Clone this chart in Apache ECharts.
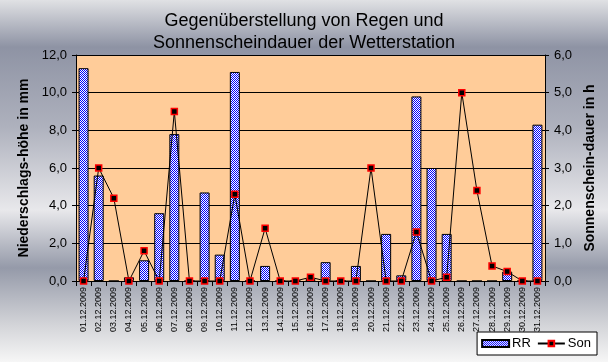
<!DOCTYPE html>
<html>
<head>
<meta charset="utf-8">
<script src="https://cdn.jsdelivr.net/npm/echarts@6/dist/echarts.min.js"></script>
<style>
html,body{margin:0;padding:0;}
#c{width:608px;height:362px;}
</style>
</head>
<body>
<div id="c"></div>
<script>
var categories = ['01.12.2009','02.12.2009','03.12.2009','04.12.2009','05.12.2009','06.12.2009','07.12.2009','08.12.2009','09.12.2009','10.12.2009','11.12.2009','12.12.2009','13.12.2009','14.12.2009','15.12.2009','16.12.2009','17.12.2009','18.12.2009','19.12.2009','20.12.2009','21.12.2009','22.12.2009','23.12.2009','24.12.2009','25.12.2009','26.12.2009','27.12.2009','28.12.2009','29.12.2009','30.12.2009','31.12.2009'];
var rainRR = [11.3,5.6,0,0.2,1.1,3.6,7.8,0,4.7,1.4,11.1,0,0.8,0,0,0.1,1.0,0,0.8,0,2.5,0.3,9.8,6.0,2.5,0,0,0,0.5,0,8.3];
var sunSon = [0,3.0,2.2,0,0.8,0,4.5,0,0,0,2.3,0,1.4,0,0,0.1,0,0,0,3.0,0,0,1.3,0,0.1,5.0,2.4,0.4,0.25,0,0];
var titleText = 'Gegenüberstellung von Regen und\nSonnenscheindauer der Wetterstation';
var leftAxisName = 'Niederschlags-höhe in mm';
var rightAxisName = 'Sonnenschein-dauer in h';

var pc = document.createElement('canvas');
pc.width = 2; pc.height = 2;
var pctx = pc.getContext('2d');
pctx.fillStyle = '#ffffff'; pctx.fillRect(0,0,2,2);
pctx.fillStyle = '#0000ff'; pctx.fillRect(0,0,1,1); pctx.fillRect(1,1,1,1);

function fmt(v){ return v.toFixed(1).replace('.', ','); }
var FF = '"Liberation Sans", Arial, sans-serif';

var chart = echarts.init(document.getElementById('c'), null, {renderer:'canvas'});
chart.setOption({
  animation: false,
  backgroundColor: {type:'linear', x:0, y:0, x2:0, y2:1, colorStops:[
    {offset:0, color:'#e0e1e4'},
    {offset:0.13, color:'#8e93a4'},
    {offset:0.35, color:'#aeb1bd'},
    {offset:0.58, color:'#e8e8eb'},
    {offset:0.74, color:'#959aa9'},
    {offset:0.9, color:'#d4d5d9'},
    {offset:1, color:'#f6f6f6'}
  ]},
  title: {
    text: titleText, left: 'center', top: 5,
    textStyle: {fontFamily:FF, fontSize:18, fontWeight:'normal', color:'#000', lineHeight:22}
  },
  legend: {
    right: 11, bottom: 7, itemWidth: 27, itemHeight: 7, itemGap: 6,
    backgroundColor: '#ffffff', borderColor: '#000', borderWidth: 1, borderRadius: 0,
    padding: [5, 6, 5, 4],
    textStyle: {fontFamily:FF, fontSize:13, color:'#000', padding:[0,0,0,-2]},
    data: [{name:'RR', icon:'rect'}, {name:'Son'}]
  },
  grid: {left:76, right:63, top:55, bottom:81, show:true, backgroundColor:'#ffcc99', borderWidth:0},
  xAxis: {
    type:'category', data: categories,
    axisLine: {lineStyle:{color:'#000', width:1}},
    axisTick: {show:true, length:5, lineStyle:{color:'#000'}},
    axisLabel: {interval:0, rotate:90, margin:6, fontFamily:FF, fontSize:9, color:'#000'}
  },
  yAxis: [{
    type:'value', min:0, max:12, interval:2, position:'left',
    name: leftAxisName, nameLocation:'middle', nameGap:42,
    nameTextStyle:{fontFamily:FF, fontSize:14, fontWeight:'bold', color:'#000'},
    axisLine:{show:true, lineStyle:{color:'#000', width:1}},
    axisTick:{show:true, length:4, lineStyle:{color:'#000'}},
    axisLabel:{formatter: fmt, margin:9, fontFamily:FF, fontSize:13, color:'#000'},
    splitLine:{show:true, lineStyle:{color:'#000', width:1}}
  },{
    type:'value', min:0, max:6, interval:1, position:'right',
    name: rightAxisName, nameLocation:'middle', nameGap:35,
    nameTextStyle:{fontFamily:FF, fontSize:14, fontWeight:'bold', color:'#000'},
    axisLine:{show:true, lineStyle:{color:'#000', width:1}},
    axisTick:{show:true, length:4, lineStyle:{color:'#000'}},
    axisLabel:{formatter: fmt, margin:9, fontFamily:FF, fontSize:13, color:'#000'},
    splitLine:{show:false}
  }],
  series: [{
    name:'RR', type:'bar', yAxisIndex:0, data: rainRR, barWidth:10,
    itemStyle:{color:{image:pc, repeat:'repeat'}, borderColor:'#000', borderWidth:1}
  },{
    name:'Son', type:'line', yAxisIndex:1, data: sunSon, z:5,
    symbol:'rect', symbolSize:6, showAllSymbol:true,
    lineStyle:{color:'#000', width:1},
    itemStyle:{color:'#000', borderColor:'#ff0000', borderWidth:1.5}
  }]
});
</script>
</body>
</html>
